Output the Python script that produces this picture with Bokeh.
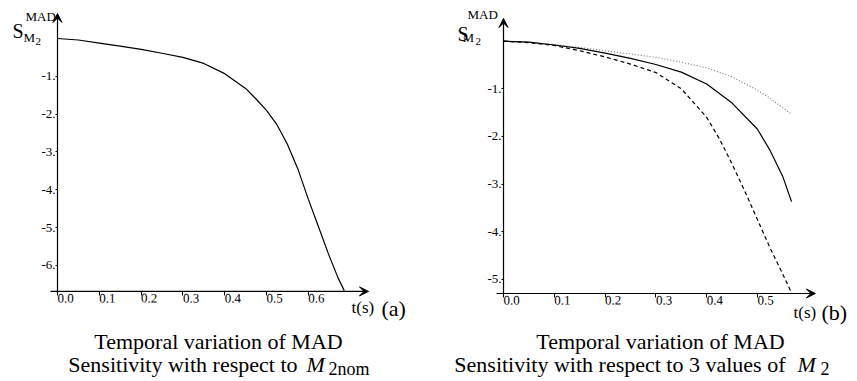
from bokeh.plotting import figure
from bokeh.models import Arrow, VeeHead, Label, Range1d, FixedTicker, LinearAxis
from bokeh.layouts import row
from bokeh.embed import file_html
from bokeh.resources import INLINE

# ---------------- data ----------------
# panel (a): nominal M2
t_a = [0, 0.05, 0.1, 0.15, 0.2, 0.25, 0.3, 0.35, 0.4, 0.45, 0.475, 0.5, 0.525, 0.55,
       0.575, 0.6, 0.625, 0.65, 0.67, 0.686]
s_a = [0, -0.04, -0.12, -0.2, -0.29, -0.39, -0.5, -0.66, -0.93, -1.32, -1.6, -1.9, -2.28,
       -2.8, -3.45, -4.25, -5.0, -5.75, -6.3, -6.67]

# panel (b): three values of M2
t_b = [0, 0.05, 0.1, 0.15, 0.2, 0.25, 0.3, 0.35, 0.4, 0.45, 0.5, 0.525, 0.55, 0.567]
s_b_solid = [0, -0.02, -0.08, -0.15, -0.25, -0.36, -0.49, -0.65, -0.9, -1.3, -1.85, -2.3, -2.85, -3.37]
s_b_dotted = [0, -0.02, -0.07, -0.13, -0.2, -0.27, -0.34, -0.44, -0.56, -0.75, -1.03, -1.2, -1.4, -1.53]
t_b_dash = [0, 0.05, 0.1, 0.15, 0.2, 0.25, 0.3, 0.35, 0.4, 0.425, 0.45, 0.475, 0.5, 0.525, 0.55, 0.565]
s_b_dashed = [0, -0.03, -0.09, -0.2, -0.33, -0.48, -0.66, -1.0, -1.6, -2.05, -2.58, -3.15, -3.75,
              -4.35, -4.9, -5.24]

xticks_a = [0.0, 0.1, 0.2, 0.3, 0.4, 0.5, 0.6]
xlabels_a = ["0.0", "0.1", "0.2", "0.3", "0.4", "0.5", "0.6"]
yticks_a = [-1, -2, -3, -4, -5, -6]
ylabels_a = ["-1.", "-2.", "-3.", "-4.", "-5.", "-6."]

xticks_b = [0.0, 0.1, 0.2, 0.3, 0.4, 0.5]
xlabels_b = ["0.0", "0.1", "0.2", "0.3", "0.4", "0.5"]
yticks_b = [-1, -2, -3, -4, -5]
ylabels_b = ["-1.", "-2.", "-3.", "-4.", "-5."]

SERIF = "Liberation Serif"
H = 380


class Panel:
    def __init__(self, width, page_x0, ox, oy, kx, ky, x_end, y_top, y_axis_level,
                 xticks, xlabels, yticks, ylabels):
        self.page_x0, self.ox, self.oy, self.kx, self.ky = page_x0, ox, oy, kx, ky
        xr = (-ox / kx, (width - ox) / kx)
        yr = (-(H - oy) / ky, oy / ky)
        p = figure(width=width, height=H, output_backend="svg", toolbar_location=None,
                   x_range=Range1d(*xr), y_range=Range1d(*yr),
                   x_axis_location=None, y_axis_location=None, min_border=0)
        p.outline_line_color = None
        p.grid.visible = False
        xa = LinearAxis(fixed_location=y_axis_level, ticker=FixedTicker(ticks=xticks))
        ya = LinearAxis(fixed_location=0, ticker=FixedTicker(ticks=yticks))
        for ax in (xa, ya):
            ax.axis_line_color = None
            ax.minor_tick_line_color = None
            ax.major_tick_in = 0
            ax.major_tick_line_color = "black"
            ax.major_tick_line_width = 1
            ax.major_label_text_font = SERIF
            ax.major_label_text_font_size = "13px"
            ax.major_label_text_color = "black"
        xa.major_label_overrides = {k: v for k, v in zip(xticks, xlabels)}
        xa.major_tick_out = 4
        xa.major_label_standoff = 3
        xa.major_label_orientation = -0.0005
        ya.major_label_overrides = {k: v for k, v in zip(yticks, ylabels)}
        ya.major_tick_out = 2
        ya.major_label_standoff = 0
        p.add_layout(xa, "below")
        p.add_layout(ya, "left")
        head = dict(size=9, fill_color="black", line_color="black", line_width=1)
        p.add_layout(Arrow(end=VeeHead(**head), x_start=-7 / kx, y_start=y_axis_level,
                           x_end=x_end, y_end=y_axis_level, line_width=1.2, line_color="black"))
        p.add_layout(Arrow(end=VeeHead(**head), x_start=0, y_start=y_axis_level - 2 / ky,
                           x_end=0, y_end=y_top, line_width=1.2, line_color="black"))
        self.p = p

    def conv(self, px, py):
        return (px - self.page_x0 - self.ox) / self.kx, (self.oy - py) / self.ky

    def txt(self, text, px, py, size, align="left", style="normal"):
        x, y = self.conv(px, py)
        self.p.add_layout(Label(x=x, y=y, text=text, text_font=SERIF, text_font_size=size,
                                text_align=align, text_baseline="alphabetic",
                                text_font_style=style, text_color="black"))


# ---------------- panel (a) ----------------
A = Panel(430, 0, 57, 38, 418, 37.8, 0.744, 0.661, -6.69,
          xticks_a, xlabels_a, yticks_a, ylabels_a)
A.p.line(t_a, s_a, line_color="black", line_width=1.2)
A.txt("S", 12, 30, "20px")
A.txt("MAD", 25, 16, "13px")
A.txt("M", 23, 37, "13px")
A.txt("2", 35, 41, "11px")
A.txt("t(s)", 351, 307, "17px")
A.txt("(a)", 381, 308, "22px")
A.txt("Temporal variation of MAD", 218, 341, "22px", align="center")
A.txt("Sensitivity with respect to", 297, 364, "22px", align="right")
A.txt("M", 306, 364, "22px", style="italic")
A.txt("2nom", 328, 368, "18px")

# ---------------- panel (b) ----------------
B = Panel(425, 430, 73, 40.7, 508, 47.6, 0.614, 0.477, -5.30,
          xticks_b, xlabels_b, yticks_b, ylabels_b)
B.p.line(t_b, s_b_dotted, line_color="#777777", line_width=1.1, line_dash="1 2")
B.p.line(t_b, s_b_solid, line_color="black", line_width=1.2)
B.p.line(t_b_dash, s_b_dashed, line_color="black", line_width=1.2, line_dash="4 3")
B.txt("S", 457, 33, "20px")
B.txt("MAD", 467, 14, "13px")
B.txt("M", 462, 37, "13px")
B.txt("2", 475, 41, "11px")
B.txt("t(s)", 793, 312, "17px")
B.txt("(b)", 821, 312, "22px")
B.txt("Temporal variation of MAD", 660, 341, "22px", align="center")
B.txt("Sensitivity with respect to 3 values of", 785, 364, "22px", align="right")
B.txt("M", 797, 364, "22px", style="italic")
B.txt("2", 820, 368, "18px")

layout = row(A.p, B.p)
open("out.html", "w").write(file_html(layout, INLINE))
